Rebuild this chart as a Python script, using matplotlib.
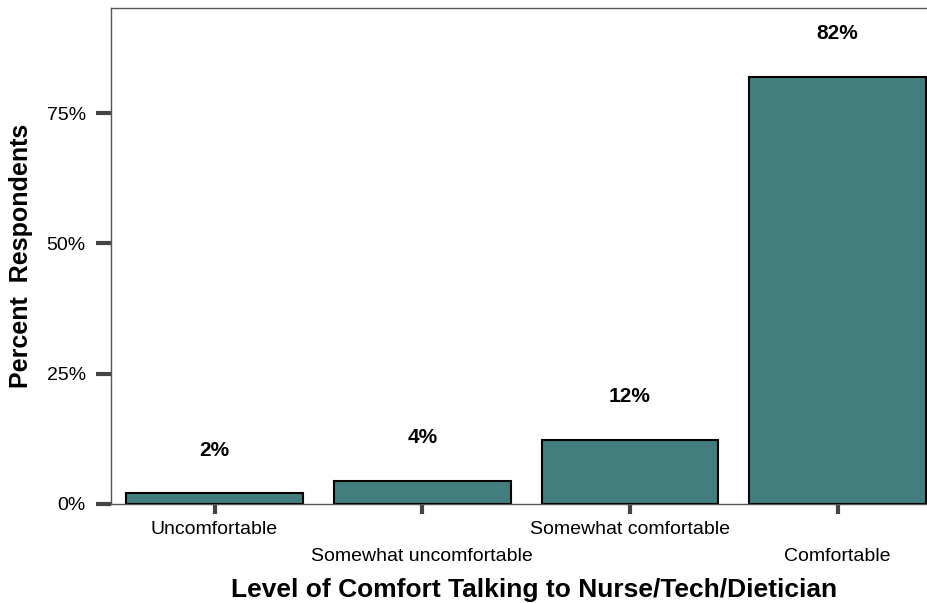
import matplotlib
matplotlib.use("Agg")
import matplotlib.pyplot as plt
from matplotlib.transforms import ScaledTranslation

plt.rcParams['font.family'] = ['Liberation Sans', 'DejaVu Sans']

categories = ["Uncomfortable", "Somewhat uncomfortable", "Somewhat comfortable", "Comfortable"]
values = [2.0, 4.4, 12.2, 82.0]
value_labels = ["2%", "4%", "12%", "82%"]
yticks = [0, 25, 50, 75]
ytick_labels = ["0%", "25%", "50%", "75%"]

fig = plt.figure(figsize=(9.28, 6.03), dpi=100)
ax = fig.add_axes([0.1193, 0.1647, 0.8807, 0.822])

x = list(range(len(categories)))
ax.bar(x, values, width=0.85, color="#427E7E", edgecolor="black", linewidth=1.5, zorder=3)

for xi, v, lab in zip(x, values, value_labels):
    ax.text(xi, v + 8.3, lab, ha="center", va="center", fontsize=15, fontweight="bold")

ax.set_xlim(-0.5, 3.435)
ax.set_ylim(0, 95.2)
ax.set_yticks(yticks)
ax.set_yticklabels(ytick_labels, fontsize=14)
ax.set_xticks(x)
ax.set_xticklabels(categories, fontsize=14)

ax.tick_params(axis="y", length=11, width=3, color="#444444", pad=7)
ax.tick_params(axis="x", length=7.5, width=3, color="#444444", pad=5)

for lab in ax.get_xticklabels()[1::2]:
    lab.set_transform(lab.get_transform() + ScaledTranslation(0, -0.265, fig.dpi_scale_trans))

for s in ["top", "left", "bottom"]:
    ax.spines[s].set_color("#555555")
    ax.spines[s].set_linewidth(1.0)
ax.spines["right"].set_visible(False)

ax.set_xlabel("Level of Comfort Talking to Nurse/Tech/Dietician", fontsize=19, fontweight="bold")
ax.xaxis.label.set_va("center")
ax.xaxis.set_label_coords(0.518, -0.174)
ax.set_ylabel("Percent  Respondents", fontsize=18, fontweight="bold", labelpad=10)

fig.savefig("out.png", dpi=100)
